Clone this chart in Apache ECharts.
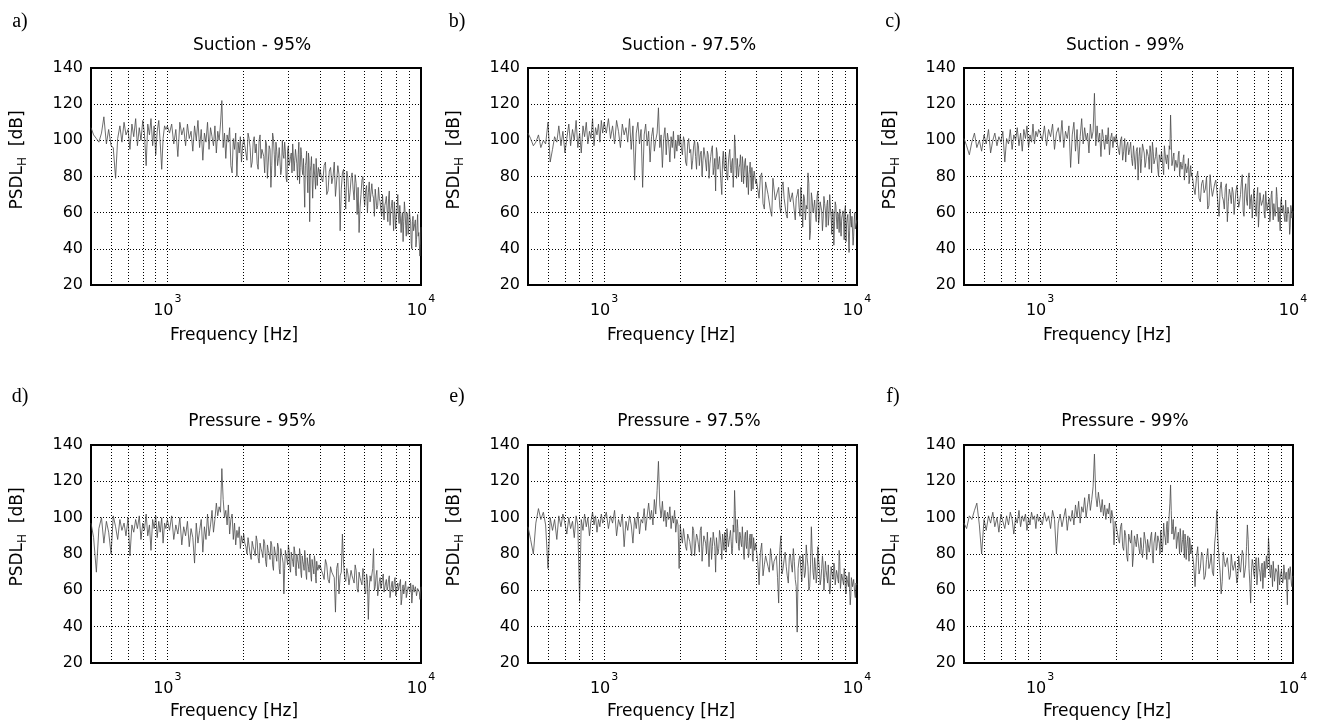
<!DOCTYPE html>
<html>
<head>
<meta charset="utf-8">
<script src="https://cdn.jsdelivr.net/npm/echarts@6/dist/echarts.min.js"></script>
<style>
html,body{margin:0;padding:0;background:#fff;}
#chart{width:1320px;height:724px;}
</style>
</head>
<body>
<div id="chart"></div>
<script>
// Frequencies [Hz] shared by all spectra
const freq = [
500,512,525,537,550,562,575,587,600,612,625,637,650,662,675,687,700,712,725,737,750,762,775,787,800,812,825,837,850,862,875,887,900,912,925,937,950,962,975,987,
1000,1020,1040,1060,1080,1100,1120,1140,1160,1180,1200,1220,1240,1260,1280,1300,1320,1340,1360,1380,1400,1420,1440,1460,1480,1500,1520,1540,1560,1580,1600,1620,1640,1660,1680,1700,1720,1740,1760,1780,1800,1820,1840,1860,1880,1900,1920,1940,1960,1980,
2000,2040,2080,2120,2160,2200,2240,2280,2320,2360,2400,2440,2480,2520,2560,2600,2640,2680,2720,2760,2800,2840,2880,2920,2960,3000,3040,3080,3120,3160,3200,3240,3280,3320,3360,3400,3440,3480,3520,3560,3600,3640,3680,3720,3760,3800,3840,3880,3920,3960,
4000,4100,4200,4300,4400,4500,4600,4700,4800,4900,5000,5100,5200,5300,5400,5500,5600,5700,5800,5900,6000,6100,6200,6300,6400,6500,6600,6700,6800,6900,7000,7100,7200,7300,7400,7500,7600,7700,7800,7900,8000,8100,8200,8300,8400,8500,8600,8700,8800,8900,9000,9100,9200,9300,9400,9500,9600,9700,9800,9900,10000
];
// Extra (interleaved) frequencies [Hz] in the dense upper band
const freqExtra = [
2020,2060,2100,2140,2180,2220,2260,2300,2340,2380,2420,2460,2500,2540,2580,2620,2660,2700,2740,2780,2820,2860,2900,2940,2980,3020,3060,3100,3140,3180,3220,3260,3300,3340,3380,3420,3460,3500,3540,3580,3620,3660,3700,3740,3780,3820,3860,3900,3940,3980,
4050,4150,4250,4350,4450,4550,4650,4750,4850,4950,5050,5150,5250,5350,5450,5550,5650,5750,5850,5950,6050,6150,6250,6350,6450,6550,6650,6750,6850,6950,7050,7150,7250,7350,7450,7550,7650,7750,7850,7950,8050,8150,8250,8350,8450,8550,8650,8750,8850,8950,9050,9150,9250,9350,9450,9550,9650,9750,9850,9950
];

// PSDL_H [dB] at freq
const suction95 = [
107,103,101,99,104,113,98,106,97,96,79,101,108,99,110,103,106,95,109,102,112,97,107,100,111,104,86,109,103,112,97,108,92,105,111,99,84,101,108,106,
108,104,109,98,106,91,110,103,107,97,109,101,105,94,108,100,111,96,106,89,104,99,110,95,107,102,97,108,93,105,100,109,122,96,104,90,103,99,107,86,82,101,95,104,80,99,93,102,88,97,
101,93,104,96,88,102,98,84,103,95,91,100,79,97,74,104,92,99,86,96,81,100,90,94,77,97,88,93,98,83,95,87,92,76,96,84,90,63,88,80,93,55,86,91,79,88,73,89,82,86,
84,77,88,72,85,80,69,86,50,82,74,83,66,79,73,81,59,49,70,80,64,75,71,66,76,68,73,62,74,66,58,71,64,69,55,72,61,67,50,65,59,70,54,63,57,44,66,53,60,48,62,55,40,58,51,56,45,59,49,36,52
];
const suction975 = [
104,101,97,99,103,96,100,98,110,88,95,102,99,108,97,105,93,101,109,97,106,100,111,96,104,93,108,102,110,98,105,101,112,97,107,103,109,99,111,104,
110,104,112,101,108,98,111,105,96,109,103,107,99,112,95,108,78,104,110,98,106,74,103,109,97,105,88,102,107,94,100,104,118,96,103,85,101,107,92,104,99,88,102,96,105,90,100,94,103,97,
103,92,99,86,101,95,89,100,84,97,92,80,96,88,94,79,91,97,85,72,93,87,90,70,94,83,89,78,92,85,88,74,103,86,90,80,87,83,91,76,88,82,86,70,84,79,85,73,83,78,
78,68,82,62,76,71,58,80,66,74,60,77,69,57,75,65,72,56,70,63,74,52,68,64,82,45,71,60,67,55,72,58,65,50,69,61,64,53,70,58,62,42,66,56,60,49,63,57,61,45,64,54,59,38,62,52,57,47,60,53,56
];
const suction99 = [
101,97,92,99,104,96,100,94,103,98,106,93,100,104,97,102,99,105,88,101,98,106,95,103,100,107,97,104,94,106,101,108,96,103,99,109,98,105,102,106,
104,100,108,97,106,102,109,95,104,107,99,111,96,105,101,108,85,103,110,94,106,87,102,112,98,107,100,104,93,109,101,105,126,97,108,99,104,91,106,101,95,103,98,107,92,101,104,96,102,99,
103,95,100,89,101,97,92,99,86,98,94,78,96,90,99,85,95,91,97,82,94,89,96,84,92,88,95,81,93,87,90,97,114,86,91,83,89,85,92,80,88,84,90,78,87,82,86,76,84,80,
80,70,83,66,78,73,62,81,69,76,72,58,77,67,74,55,73,65,71,60,75,63,70,81,58,76,64,82,68,57,73,62,69,52,71,64,67,59,72,61,66,55,70,62,65,58,74,60,63,50,68,61,64,55,66,59,62,48,64,57,61
];
const pressure95 = [
97,89,70,94,100,86,98,92,80,101,95,88,99,93,97,90,100,79,96,92,99,94,101,88,97,93,102,90,96,82,99,94,101,89,98,92,100,86,97,94,
99,93,101,88,96,91,100,85,95,90,98,84,94,89,75,97,86,93,99,81,95,88,102,90,96,104,92,99,108,101,106,103,127,110,100,104,96,107,91,99,102,88,97,85,93,89,95,83,90,86,
91,84,89,80,87,82,90,78,86,81,88,76,85,80,87,74,84,79,86,72,83,78,58,82,77,85,73,81,76,84,71,80,75,83,70,79,74,82,69,78,73,80,68,77,72,79,67,76,71,74,
74,69,77,66,73,70,48,75,68,91,67,72,63,71,66,74,61,70,65,72,60,69,44,68,64,83,62,71,58,67,63,69,60,66,62,68,57,65,61,67,59,64,62,66,55,63,60,65,58,62,61,64,53,63,59,62,57,61,60,55,62
];
const pressure975 = [
95,88,80,97,105,99,103,96,72,100,93,99,88,101,95,102,97,91,100,94,98,89,101,96,54,99,93,102,95,100,90,98,103,96,101,92,99,95,102,97,
99,103,94,101,97,104,90,99,95,102,84,98,93,101,96,86,100,94,103,91,99,97,105,93,101,108,99,104,96,110,102,115,131,107,100,109,98,104,95,103,99,106,94,101,97,104,92,99,96,72,
96,86,94,82,92,88,95,79,91,85,93,76,90,86,92,73,89,84,91,70,88,83,90,77,87,92,81,89,85,93,80,96,115,88,99,84,92,86,95,80,90,85,93,78,89,83,91,76,88,84,
82,63,86,74,80,70,84,76,79,53,90,72,81,68,78,74,83,66,37,77,71,80,67,85,73,62,95,70,78,64,84,72,66,79,60,76,70,74,58,73,68,75,63,71,66,82,61,69,65,72,60,68,64,70,52,67,62,66,58,64,63
];
const pressure99 = [
97,94,101,99,104,108,96,80,99,93,101,97,103,95,100,92,102,98,94,101,96,103,99,91,100,97,104,95,101,98,102,93,100,96,103,99,101,94,102,98,
100,96,103,98,101,94,104,99,80,97,102,95,100,105,93,101,98,104,96,107,100,109,97,106,103,111,100,107,113,104,110,117,135,112,106,114,108,103,110,101,107,99,105,102,108,97,104,100,85,98,
97,88,95,84,93,79,91,86,73,90,84,92,80,88,83,91,77,89,85,92,75,87,82,90,86,93,81,97,89,95,86,102,118,91,99,87,95,84,92,80,89,85,93,78,88,83,90,76,86,82,
80,62,84,72,79,68,83,75,70,86,104,77,58,81,73,78,66,80,71,76,64,79,70,82,67,74,96,72,53,77,69,75,63,78,70,73,61,76,68,72,89,70,74,62,77,69,73,60,75,67,71,64,74,66,70,52,72,65,69,62,68
];

// PSDL_H [dB] at freqExtra
const suction95Extra = [
97,89,101,85,99,93,87,100,90,96,82,98,88,95,86,101,80,94,90,97,84,92,99,79,95,86,91,82,97,89,94,78,99,85,92,81,90,86,94,71,89,83,91,68,87,78,90,75,85,80,
79,86,70,83,76,88,68,81,73,84,62,79,71,82,67,76,74,63,78,69,72,60,77,65,70,58,73,64,68,61,70,56,66,62,68,53,64,59,66,51,62,57,64,49,60,55,61,47,58,52,57,43,55,50,54,41,53,47,50,42
];
const suction975Extra = [
96,102,88,98,93,84,97,91,99,86,94,89,97,83,92,87,95,81,90,96,84,91,76,89,85,93,80,88,95,82,90,84,97,79,89,85,92,77,87,83,90,74,86,81,88,72,85,80,84,76,
73,80,65,77,70,61,79,67,72,63,75,68,59,74,66,71,61,68,73,58,66,70,56,62,76,50,67,63,59,69,54,66,61,57,65,52,67,59,63,48,60,55,64,51,58,62,47,59,55,61,44,57,60,50,55,58,42,56,51,54
];
const suction99Extra = [
98,92,102,94,88,99,95,90,97,84,96,91,82,98,93,88,96,84,93,99,87,91,95,80,90,94,85,97,89,92,84,95,101,88,93,82,90,87,94,81,89,86,92,79,88,84,90,78,86,82,
74,79,68,76,71,80,64,74,70,78,65,73,69,62,76,66,70,74,59,72,68,66,77,61,72,67,79,62,70,65,68,58,74,60,67,63,70,57,66,64,68,60,72,56,65,62,69,55,63,66,60,64,57,67,55,63,59,52,62,58
];
const pressure95Extra = [
86,80,88,77,84,79,87,75,83,78,86,73,82,77,85,71,81,76,84,69,80,75,72,79,74,82,70,78,73,81,68,77,72,80,67,76,71,78,66,75,70,77,65,74,69,76,64,73,70,72,
71,66,74,64,70,67,72,58,70,75,65,69,62,68,64,71,59,67,63,70,58,66,61,65,72,60,68,57,65,61,67,59,64,60,66,56,63,59,65,57,62,60,64,52,61,58,63,56,60,62,59,61,57,62,58,60,56,61,59,58
];
const pressure975Extra = [
90,94,84,91,87,79,93,86,89,81,95,84,88,80,91,86,77,92,84,89,80,93,85,91,82,88,94,84,90,87,83,92,104,86,94,82,90,84,88,77,92,83,87,80,91,85,78,89,82,86,
76,81,68,79,73,83,71,75,67,82,69,77,73,64,80,70,76,62,72,79,65,75,70,78,60,74,81,66,73,69,77,63,72,74,67,71,64,75,61,70,66,73,62,69,64,76,60,68,63,70,58,66,62,69,57,65,61,67,56,64
];
const pressure99Extra = [
92,86,97,82,90,76,88,93,80,87,91,83,89,78,92,85,88,81,90,79,86,92,84,89,80,94,86,91,85,98,92,108,104,95,88,93,83,90,86,94,81,88,84,91,77,87,82,89,80,85,
74,78,69,81,66,77,72,80,68,92,88,70,65,76,72,79,68,74,70,77,67,73,71,80,70,84,88,64,70,74,67,78,69,72,65,75,70,67,79,74,82,67,71,76,65,72,70,74,63,69,72,66,71,68,61,70,66,73,64,67
];

const titles = ['Suction - 95%','Suction - 97.5%','Suction - 99%','Pressure - 95%','Pressure - 97.5%','Pressure - 99%'];
const letters = ['a)','b)','c)','d)','e)','f)'];
const seriesValues = [suction95, suction975, suction99, pressure95, pressure975, pressure99];
const seriesExtra = [suction95Extra, suction975Extra, suction99Extra, pressure95Extra, pressure975Extra, pressure99Extra];
const yTicks = [20,40,60,80,100,120,140];
const gridFreqs = [600,700,800,900,1000,2000,3000,4000,5000,6000,7000,8000,9000];

// layout
const colLeft = [91, 528, 964];
const colWidth = [330, 329, 329];
const rowTop = [68, 445];
const rowHeight = [217, 218];
const titleY = [46, 422];
const xNameY = [336, 712];
const yNameY = [160, 537];
const letterY = [22, 397];

const FONT = 'DejaVu Sans';
const grids = [], xAxes = [], yAxes = [], series = [], graphics = [];

function isPow10(v){
  const e = Math.round(Math.log10(v));
  return Math.abs(v - Math.pow(10, e)) < 1e-6 * v ? e : null;
}

for (let k = 0; k < 6; k++) {
  const r = Math.floor(k / 3), c = k % 3;
  grids.push({left: colLeft[c], top: rowTop[r], width: colWidth[c], height: rowHeight[r],
    show: true, borderColor: '#000', borderWidth: 2, backgroundColor: 'transparent', containLabel: false});
  xAxes.push({type: 'log', logBase: 10, gridIndex: k, min: 500, max: 10000,
    axisLine: {show: false}, axisTick: {show: false}, splitLine: {show: false}, minorTick:{show:false},
    axisLabel: {show: true, margin: 18, showMinLabel: true, showMaxLabel: true,
      formatter: function(v){ const e = isPow10(v); return e === null ? '' : '{b|10}{s|' + e + '}'; },
      rich: {
        b: {fontFamily: FONT, fontSize: 16, color: '#000', verticalAlign: 'bottom', lineHeight: 16},
        s: {fontFamily: FONT, fontSize: 11, color: '#000', verticalAlign: 'bottom', lineHeight: 11, padding:[0,0,14,1]}
      }
    }
  });
  yAxes.push({type: 'value', gridIndex: k, min: yTicks[0], max: yTicks[yTicks.length-1], interval: 20,
    axisLine: {show: false}, axisTick: {show: false},
    axisLabel: {fontFamily: FONT, fontSize: 16, color: '#000', margin: 8},
    splitLine: {show: true, lineStyle: {color: '#000', width: 1, type: [1, 2]}}
  });
  const vals = seriesValues[k], extra = seriesExtra[k];
  const pts = freq.map((f, i) => [f, vals[i]])
    .concat(freqExtra.map((f, i) => [f, extra[i]]))
    .sort((a, b) => a[0] - b[0]);
  series.push({type: 'line', xAxisIndex: k, yAxisIndex: k, showSymbol: false, symbol: 'none',
    data: pts,
    lineStyle: {color: '#4a4a4a', width: 0.8}, animation: false, silent: true,
    markLine: {silent: true, symbol: ['none', 'none'], animation: false, label: {show: false},
      lineStyle: {color: '#000', width: 1, type: [1, 2]},
      emphasis: {disabled: true},
      data: gridFreqs.map(f => ({xAxis: f}))}
  });
  const cx = colLeft[c];
  graphics.push({type: 'text', x: cx + 161, y: titleY[r], style: {text: titles[k], font: '17px ' + FONT,
    fill: '#000', align: 'center', verticalAlign: 'middle'}});
  graphics.push({type: 'text', x: cx + 143, y: xNameY[r], style: {text: 'Frequency [Hz]', font: '17px ' + FONT,
    fill: '#000', align: 'center', verticalAlign: 'middle'}});
  graphics.push({type: 'text', x: cx - 73, y: yNameY[r], rotation: Math.PI / 2,
    style: {text: '{a|PSDL}{h|H}{a|  [dB]}', align: 'center', verticalAlign: 'middle',
      rich: {a: {fontFamily: FONT, fontSize: 17, fill: '#000', color:'#000'},
             h: {fontFamily: FONT, fontSize: 12, fill: '#000', color:'#000', padding: [10, 0, 0, 0]}}}});
  graphics.push({type: 'text', x: cx - 71, y: letterY[r], style: {text: letters[k],
    font: '20px "Liberation Serif"', fill: '#000', align: 'center', verticalAlign: 'middle'}});
}

const chart = echarts.init(document.getElementById('chart'), null, {renderer: 'canvas'});
chart.setOption({
  animation: false,
  backgroundColor: '#fff',
  grid: grids, xAxis: xAxes, yAxis: yAxes, series: series,
  graphic: {elements: graphics}
});
</script>
</body>
</html>
